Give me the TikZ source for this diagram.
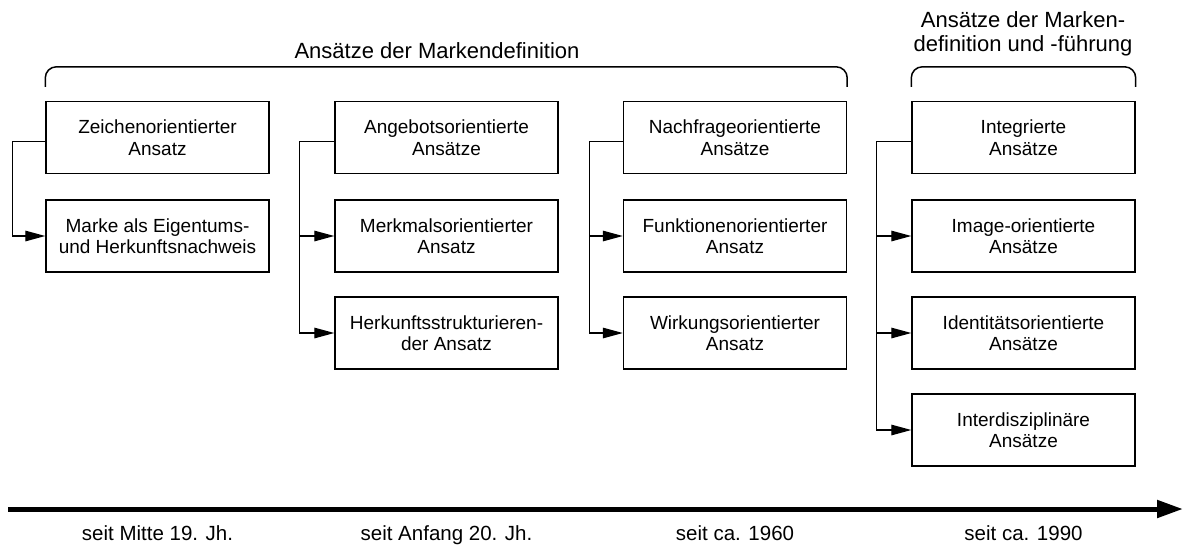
\documentclass[tikz,border=0pt]{standalone}
\usepackage{fontspec}
\setmainfont{Liberation Sans}
\usetikzlibrary{arrows.meta}

\tikzset{
  ansatz/.style={draw, line width=1.4pt, minimum width=223pt, minimum height=72pt,
    align=center, inner sep=0pt, font=\fontsize{19}{21.5}\selectfont},
  zweig/.style={line width=1.3pt, -{Triangle[length=20pt,width=10.5pt]}},
  klammer/.style={line width=1.5pt, rounded corners=11pt},
  titel/.style={align=center, inner sep=0pt, font=\fontsize{22}{23.5}\selectfont},
  epoche/.style={anchor=base, inner sep=0pt, font=\fontsize{20.5}{22}\selectfont},
}

\begin{document}
\begin{tikzpicture}[x=1pt, y=-1pt]
    % Frame with the size of the original
    \useasboundingbox (0,0) rectangle (1185,547);

    % Column 1: seit Mitte 19. Jh.
    \node[ansatz] (zeichen) at (157.5,137.5) {Zeichenorientierter\\Ansatz};
    \node[ansatz] (marke) at (157.5,236) {Marke als Eigentums-\\und Herkunftsnachweis};

    % Column 2: seit Anfang 20. Jh.
    \node[ansatz] (angebot) at (446.5,137.5) {Angebotsorientierte\\Ansätze};
    \node[ansatz] (merkmal) at (446.5,236) {Merkmalsorientierter\\Ansatz};
    \node[ansatz] (herkunft) at (446.5,333) {Herkunftsstrukturieren-\\der Ansatz};

    % Column 3: seit ca. 1960
    \node[ansatz] (nachfrage) at (735,137.5) {Nachfrageorientierte\\Ansätze};
    \node[ansatz] (funktion) at (735,236) {Funktionenorientierter\\Ansatz};
    \node[ansatz] (wirkung) at (735,333) {Wirkungsorientierter\\Ansatz};

    % Column 4: seit ca. 1990
    \node[ansatz] (integriert) at (1023.5,137.5) {Integrierte\\Ansätze};
    \node[ansatz] (image) at (1023.5,236) {Image-orientierte\\Ansätze};
    \node[ansatz] (identitaet) at (1023.5,333) {Identitätsorientierte\\Ansätze};
    \node[ansatz] (interdis) at (1023.5,430) {Interdisziplinäre\\Ansätze};

    % Branches
    \draw[zweig] ([yshift=-4pt]zeichen.west) -- ++(-33,0) |- (marke.west);

    \draw[zweig] ([yshift=-4pt]angebot.west) -- ++(-35,0) coordinate (ast2) |- (herkunft.west);
    \draw[zweig] (ast2 |- merkmal.west) -- (merkmal.west);

    \draw[zweig] ([yshift=-4pt]nachfrage.west) -- ++(-33,0) coordinate (ast3) |- (wirkung.west);
    \draw[zweig] (ast3 |- funktion.west) -- (funktion.west);

    \draw[zweig] ([yshift=-4pt]integriert.west) -- ++(-35,0) coordinate (ast4) |- (interdis.west);
    \draw[zweig] (ast4 |- image.west) -- (image.west);
    \draw[zweig] (ast4 |- identitaet.west) -- (identitaet.west);

    % Brackets with their headings
    \draw[klammer] ([yshift=14pt]zeichen.north west) -- ++(0,-20) -| ([yshift=14pt]nachfrage.north east);
    \draw[klammer] ([yshift=14pt]integriert.north west) -- ++(0,-20) -| ([yshift=14pt]integriert.north east);
    \node[titel, anchor=base] (def) at (437,58) {Ansätze der Markendefinition};
    \node[titel] (fuehrung) at (1023,34) {Ansätze der Marken-\\definition und -führung};

    % Time axis
    \coordinate (beginn) at (8,509);
    \coordinate (heute) at (1183,509);
    \draw[line width=5pt, -{Triangle[length=26pt,width=17pt]}] (beginn) -- (heute);
    \node[epoche] (mitte19) at (157.5,540) {seit Mitte 19. Jh.};
    \node[epoche] (anfang20) at (446.5,540) {seit Anfang 20. Jh.};
    \node[epoche] (ca1960) at (735,540) {seit ca. 1960};
    \node[epoche] (ca1990) at (1023.5,540) {seit ca. 1990};
\end{tikzpicture}
\end{document}
